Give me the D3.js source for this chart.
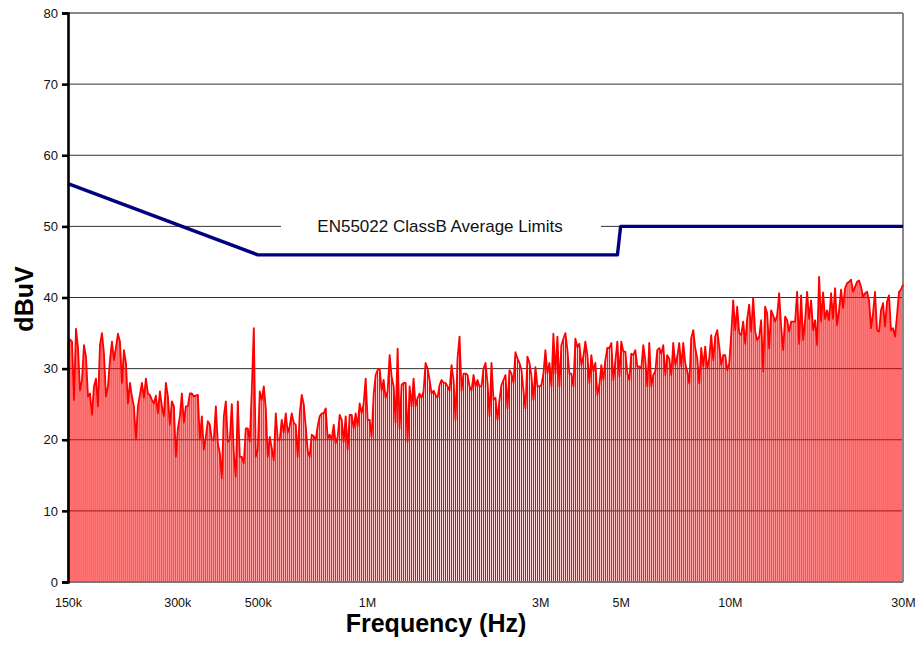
<!DOCTYPE html>
<html>
<head>
<meta charset="utf-8">
<script src="https://cdn.jsdelivr.net/npm/d3@7/dist/d3.min.js"></script>
<style>
  html, body { margin: 0; padding: 0; background: #fff; }
  svg { display: block; font-family: "Liberation Sans", Arial, Helvetica, sans-serif; }
</style>
</head>
<body>
<svg id="chart" width="917" height="647"></svg>
<script>
// ---------------- DATA ----------------
const fStart = 150e3, fStop = 30e6;

// Measured average level (dBuV), sweep points from 150 kHz to 30 MHz (log-spaced sweep)
const levels = [
  // 150k .. ~320k
  33.5,34.1,33.8,25.6,35.6,33,26.9,28.4,33.3,31.7,26.1,26.5,23.5,27.5,28.6,24.7,33.3,35,32.1,26.1,
  27.5,31.2,33.8,31.2,33,34.9,33.8,28,32.6,30.8,25.1,28,26.1,24.7,20,24.7,26.3,28,25.9,28.6,
  26.5,26.3,25.6,25.1,26.2,23.7,26.8,24.7,23.3,28,26.1,22.1,25.4,24.7,17.6,21.6,23.3,26.5,22.4,24.7,
  24.7,26.5,26.5,26.1,26.2,26.3,20,
  // ~320k .. ~750k
  23.3,18.6,20.4,22.6,22.1,20,20,24.7,19.5,18.1,14.6,23.3,25.4,19.7,20,25,18.1,14.8,25.4,17.6,
  17.6,16.7,21.6,21.6,19.7,26.9,35.7,17.6,18.6,26.8,25.6,27.5,24.4,17.6,20.4,18.8,17.1,23.7,20,20,
  22.8,21,23.7,21,21.9,23.7,22.4,22.1,17.6,23.7,26.3,25,21.9,18.4,17.6,20.7,20.5,20,21.9,23.3,
  23.7,23.7,24.4,20.2,20.7,20,22.1,19.5,
  // ~750k .. ~1.8M
  20.4,23.5,22.8,19.7,23.3,18.6,23.5,23.5,21.6,23.7,21.9,25.1,23.7,25.1,28.6,22.8,22.8,20.4,26.3,29.1,
  29.8,30,26.9,28.4,25.9,26.8,31.9,28.9,27.5,22.4,32.8,21.6,27.7,28,28,19.7,27.5,24.7,28.6,24.7,
  25.9,26.5,25.9,26.8,30.8,30,28.4,26.5,26.9,26.3,25.9,27.7,28.4,28,28,27.5,26.9,30.5,28.4,22.8,
  31.4,34.5,26.9,29.3,29.3,29.1,27.5,26.9,29.1,
  // ~1.8M .. ~4.5M
  27.5,28.4,27.5,27.5,30,30.8,28,23.3,30.8,25.6,25.9,22.8,25.6,27.7,28.4,29.1,24.4,29.8,29.3,28,
  32.3,31.4,30.8,29.8,26.9,24.4,31.7,30.8,28.9,25.6,30.2,27.5,27.5,27.7,29.3,32.6,29.3,30.8,27.5,34.9,
  29.3,34.5,27.5,33.3,34.2,35,32.6,29.3,29.3,27.5,34.2,33,33.5,30.5,31.7,33.8,31.9,28,31.9,29.6,
  30.8,26.3,27.7,30.5,28.4,31.2,
  // ~4.5M .. ~10.5M
  32.9,32.9,33.6,28.4,31,33.8,28.9,33.8,32.4,32.4,29.3,28.4,32.1,31.9,32.6,30.3,30.3,30,33.3,31.2,
  27.5,33.6,27.5,29.1,29.6,32.6,32.9,32.1,33.3,29.1,31.9,31.4,29.1,33.6,30.5,31.7,33.6,30.3,33.6,30.7,
  29.6,27.9,34.3,35.4,32.9,31.4,27.9,32.9,30.3,33.1,30,31.4,34.7,31.2,34.5,35.4,33.1,30.5,31.9,31.9,
  29.8,30.7,34.7,39.6,35.4,38.7,35,
  // ~10.5M .. 30M
  34.7,36.6,33.5,37,39,35.2,39.9,35.2,34,34.5,36.8,29.6,38.7,37.8,32.8,38.2,37.5,36.6,37.5,40.6,
  35.9,32.6,37.3,36.8,35.2,36.6,36.6,36.6,40.8,33.5,40.3,34,36.8,40.8,37,39.6,35.4,36.8,33.3,42.9,
  36.6,40.7,37,38.2,36.8,40.6,37,41.3,36.1,38.2,41.1,38.5,41.3,42,42.2,42.5,40.8,41.5,42.2,42.4,
  41.5,40.1,40.6,40.8,39.6,35.7,37.8,40.8,35.4,35.2,38.2,39.2,35.9,39.4,40.3,35.4,35.7,34.5,37.5,40.8,
  41.1,41.8
];

// EN55022 Class B average limit (frequency Hz, dBuV)
const limitFreq  = [150e3, 500e3, 4.9e6, 5e6, 30e6];
const limitLevel = [56, 46, 46, 50, 50];

const yTicks = [0, 10, 20, 30, 40, 50, 60, 70, 80];
const xTickValues = [150e3, 300e3, 500e3, 1e6, 3e6, 5e6, 10e6, 30e6];
const xTickLabels = ["150k", "300k", "500k", "1M", "3M", "5M", "10M", "30M"];

const limitLabel = "EN55022 ClassB Average Limits";
const xTitle = "Frequency (Hz)";
const yTitle = "dBuV";

// sweep frequencies (log-spaced scan points)
const n = levels.length;
const freqs = levels.map((_, i) => fStart * Math.pow(fStop / fStart, i / (n - 1)));

// ---------------- CHART ----------------
const svg = d3.select("#chart");
const L = 68, R = 903, T = 13, B = 582;

const x = d3.scaleLog().domain([fStart, fStop]).range([L, R]);
const y = d3.scaleLinear().domain([0, 80]).range([B, T]);

// gridlines (behind the series)
svg.append("g")
  .selectAll("line")
  .data(yTicks.filter(t => t > 0 && t < 80))
  .join("line")
  .attr("x1", L).attr("x2", R)
  .attr("y1", d => y(d)).attr("y2", d => y(d))
  .attr("stroke", "#333")
  .attr("stroke-width", 1);

// bars (vertical spectral lines)
svg.append("g")
  .selectAll("line")
  .data(levels)
  .join("line")
  .attr("x1", (d, i) => x(freqs[i]))
  .attr("x2", (d, i) => x(freqs[i]))
  .attr("y1", y(0))
  .attr("y2", d => y(d))
  .attr("stroke", "#ff0000")
  .attr("stroke-width", 1.15);

// plot border (top / right / bottom)
svg.append("line").attr("x1", L).attr("x2", R).attr("y1", y(80)).attr("y2", y(80))
  .attr("stroke", "#888").attr("stroke-width", 2);
svg.append("line").attr("x1", R).attr("x2", R).attr("y1", y(80)).attr("y2", y(0))
  .attr("stroke", "#888").attr("stroke-width", 2);
svg.append("line").attr("x1", L).attr("x2", R).attr("y1", y(0)).attr("y2", y(0))
  .attr("stroke", "#777").attr("stroke-width", 2);

// measured trace
svg.append("path")
  .datum(levels)
  .attr("fill", "none")
  .attr("stroke", "#ff0000")
  .attr("stroke-width", 1.8)
  .attr("stroke-linejoin", "round")
  .attr("d", d3.line().x((d, i) => x(freqs[i])).y(d => y(d)));

// limit label with white background
const lbl = svg.append("g");
lbl.append("rect")
  .attr("x", 281).attr("y", y(50) - 12).attr("width", 320).attr("height", 24)
  .attr("fill", "#fff");
lbl.append("text")
  .attr("x", 440).attr("y", y(50) + 5.5)
  .attr("text-anchor", "middle")
  .attr("font-size", 17)
  .attr("fill", "#111")
  .text(limitLabel);

// limit line
svg.append("path")
  .datum(limitFreq.map((f, i) => [f, limitLevel[i]]))
  .attr("fill", "none")
  .attr("stroke", "#000080")
  .attr("stroke-width", 3.4)
  .attr("stroke-linejoin", "round")
  .attr("d", d3.line().x(d => x(d[0])).y(d => y(d[1])));

// Y axis
const yAxis = d3.axisLeft(y).tickValues(yTicks).tickSize(6).tickPadding(4);
const yg = svg.append("g").attr("transform", `translate(${L},0)`).call(yAxis);
yg.select(".domain").attr("stroke", "#000").attr("stroke-width", 2.6);
yg.selectAll(".tick line").attr("stroke", "#000").attr("stroke-width", 2.6);
yg.selectAll(".tick text").attr("font-size", 13).attr("fill", "#111")
  .attr("font-family", "'Liberation Sans', Arial, sans-serif");

// X axis labels
const xAxis = d3.axisBottom(x).tickValues(xTickValues)
  .tickFormat((d, i) => xTickLabels[i]).tickSize(0).tickPadding(16);
const xg = svg.append("g").attr("transform", `translate(0,${B})`).call(xAxis);
xg.select(".domain").remove();
xg.selectAll(".tick text").attr("font-size", 12.5).attr("fill", "#111")
  .attr("font-family", "'Liberation Sans', Arial, sans-serif");

// axis titles
svg.append("text")
  .attr("x", 436).attr("y", 632)
  .attr("text-anchor", "middle")
  .attr("font-size", 25).attr("font-weight", "bold").attr("fill", "#000")
  .text(xTitle);
svg.append("text")
  .attr("transform", "translate(33,299) rotate(-90)")
  .attr("text-anchor", "middle")
  .attr("font-size", 25).attr("font-weight", "bold").attr("fill", "#000")
  .text(yTitle);
</script>
</body>
</html>
